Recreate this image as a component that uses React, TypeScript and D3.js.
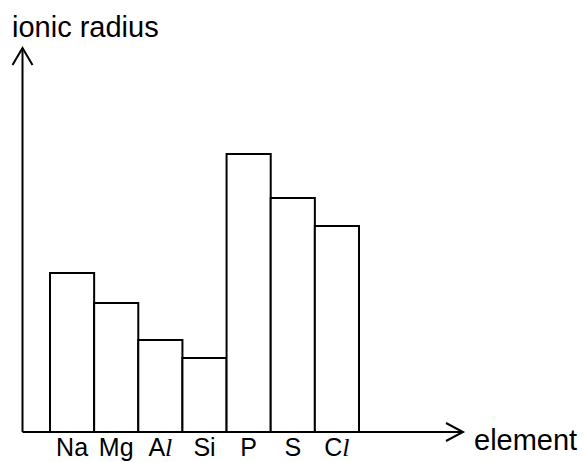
import React from "react";
import * as d3 from "d3";

const categories = ["Na", "Mg", "Al", "Si", "P", "S", "Cl"];
const values = [159, 129, 92, 74, 278, 234, 206];
const yTitle = "ionic radius";
const xTitle = "element";

const W = 583;
const H = 462;
const originX = 22.5;
const originY = 432;
const yTop = 48;
const xEnd = 463;

export default function App() {
  const x = d3.scaleBand<string>().domain(categories).range([50, 359]).paddingInner(0).paddingOuter(0);
  const y = d3.scaleLinear().domain([0, originY - yTop]).range([originY, yTop]);
  const sans = "Arial, 'Liberation Sans', sans-serif";
  const serif = "'Times New Roman', 'Liberation Serif', serif";

  const renderLabel = (c: string) => {
    if (c.endsWith("l") && c.length === 2) {
      return (
        <>
          <tspan>{c[0]}</tspan>
          <tspan fontFamily={serif} fontStyle="italic" fontSize={26}>l</tspan>
        </>
      );
    }
    return c;
  };

  return (
    <svg width={W} height={H} style={{ position: "absolute", left: 0, top: 0, background: "#fff" }}>
      {categories.map((c, i) => (
        <rect
          key={c}
          x={x(c)}
          y={y(values[i])}
          width={x.bandwidth()}
          height={originY - y(values[i])}
          fill="#fff"
          stroke="#000"
          strokeWidth={2}
        />
      ))}
      <line x1={originX} y1={originY} x2={xEnd} y2={originY} stroke="#000" strokeWidth={2} />
      <line x1={originX} y1={originY} x2={originX} y2={yTop} stroke="#000" strokeWidth={2} />
      <polyline
        points={`${xEnd - 17},${originY - 9} ${xEnd},${originY} ${xEnd - 17},${originY + 9}`}
        fill="none"
        stroke="#000"
        strokeWidth={2}
      />
      <polyline
        points={`${originX - 10},${yTop + 17} ${originX},${yTop} ${originX + 10},${yTop + 17}`}
        fill="none"
        stroke="#000"
        strokeWidth={2}
      />
      {categories.map((c) => (
        <text
          key={"l" + c}
          x={(x(c) as number) + x.bandwidth() / 2}
          y={456}
          textAnchor="middle"
          fontFamily={sans}
          fontSize={25}
          fill="#000"
        >
          {renderLabel(c)}
        </text>
      ))}
      <text x={12} y={37} fontFamily={sans} fontSize={29} fill="#000">
        {yTitle}
      </text>
      <text x={474} y={450} fontFamily={sans} fontSize={29} fill="#000">
        {xTitle}
      </text>
    </svg>
  );
}
